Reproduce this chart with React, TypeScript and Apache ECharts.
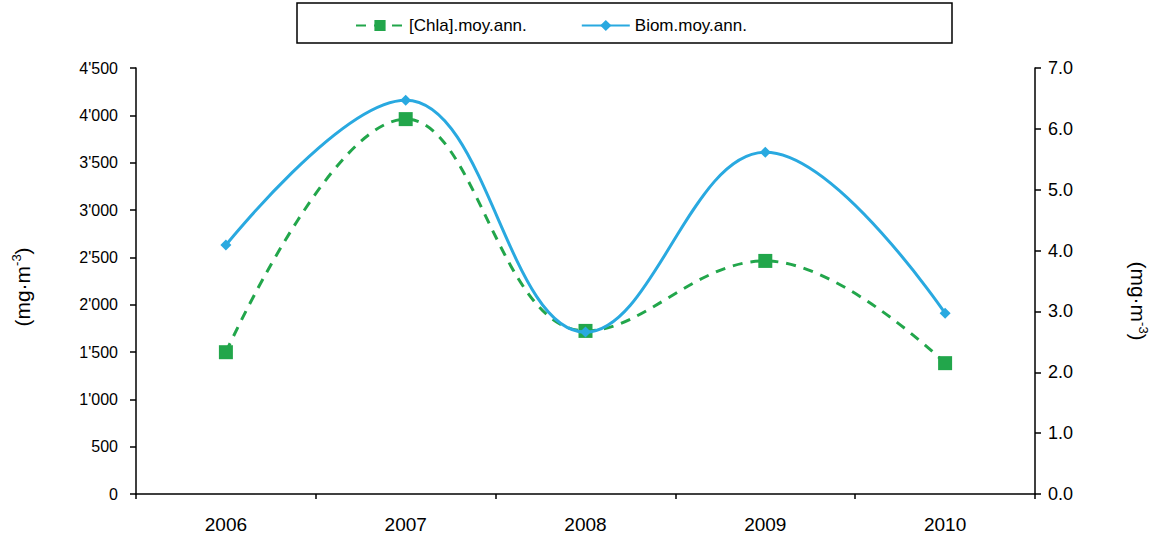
import React, { useEffect, useRef } from "react";
import * as echarts from "echarts";

const years = ["2006", "2007", "2008", "2009", "2010"];
const chlaValues = [2.33, 6.16, 2.68, 3.83, 2.15];
const biomValues = [2630, 4160, 1710, 3610, 1910];
const chlaName = "[Chla].moy.ann.";
const biomName = "Biom.moy.ann.";

const FONT = "'Liberation Sans', Arial, sans-serif";
const GREEN = "#22A64B";
const BLUE = "#29A9E0";

function fmtThousands(v: number): string {
  if (v >= 1000) {
    const k = Math.floor(v / 1000);
    const r = Math.round(v % 1000);
    return `${k}'${String(r).padStart(3, "0")}`;
  }
  return String(v);
}

const unitRich = {
  a: { fontSize: 21, lineHeight: 24, fontFamily: FONT, fill: "#000", color: "#000" },
  s: { fontSize: 13, lineHeight: 13, fontFamily: FONT, fill: "#000", color: "#000", verticalAlign: "top" as const },
};
const unitText = "{a|(mg·m}{s|-3}{a|)}";

export default function App() {
  const ref = useRef<HTMLDivElement>(null);
  useEffect(() => {
    if (!ref.current) return;
    const chart = echarts.init(ref.current, undefined, { renderer: "svg" });
    const axisLine = { show: true, lineStyle: { color: "#000", width: 1.5 } };
    chart.setOption({
      animation: false,
      backgroundColor: "#fff",
      textStyle: { fontFamily: FONT },
      grid: { left: 136, right: 125, top: 68, bottom: 45, containLabel: false },
      legend: {
        left: 350,
        top: 12,
        itemWidth: 48,
        itemHeight: 14,
        itemGap: 54,
        textStyle: { fontSize: 17, color: "#000", fontFamily: FONT },
        data: [chlaName, biomName],
      },
      graphic: [
        {
          type: "rect",
          shape: { x: 297, y: 3, width: 655, height: 40 },
          style: { fill: "none", stroke: "#000", lineWidth: 1.5 },
          silent: true,
        },
        {
          type: "text",
          x: 22,
          y: 287,
          rotation: Math.PI / 2,
          style: { text: unitText, rich: unitRich, align: "center", verticalAlign: "middle" },
          silent: true,
        },
        {
          type: "text",
          x: 1138,
          y: 301,
          rotation: -Math.PI / 2,
          style: { text: unitText, rich: unitRich, align: "center", verticalAlign: "middle" },
          silent: true,
        },
      ],
      xAxis: {
        type: "category",
        data: years,
        boundaryGap: true,
        axisLine,
        axisTick: { show: true, alignWithLabel: false, length: 5, lineStyle: { color: "#000", width: 1.5 } },
        axisLabel: { fontSize: 19, color: "#000", margin: 21, fontFamily: FONT },
        splitLine: { show: false },
      },
      yAxis: [
        {
          type: "value",
          position: "left",
          min: 0,
          max: 4500,
          interval: 500,
          axisLine,
          axisTick: { show: true, length: 6, lineStyle: { color: "#000", width: 1.5 } },
          axisLabel: { fontSize: 16, color: "#000", margin: 18, formatter: (v: number) => fmtThousands(v), fontFamily: FONT },
          splitLine: { show: false },
        },
        {
          type: "value",
          position: "right",
          min: 0,
          max: 7,
          interval: 1,
          axisLine,
          axisTick: { show: true, length: 6, lineStyle: { color: "#000", width: 1.5 } },
          axisLabel: { fontSize: 18, color: "#000", margin: 13, formatter: (v: number) => v.toFixed(1), fontFamily: FONT },
          splitLine: { show: false },
        },
      ],
      series: [
        {
          name: chlaName,
          type: "line",
          yAxisIndex: 1,
          data: chlaValues,
          smooth: 0.4,
          symbol: "rect",
          symbolSize: 14,
          lineStyle: { color: GREEN, width: 3, type: [10, 8] },
          itemStyle: { color: GREEN },
          z: 2,
        },
        {
          name: biomName,
          type: "line",
          yAxisIndex: 0,
          data: biomValues,
          smooth: 0.4,
          symbol: "diamond",
          symbolSize: 11,
          lineStyle: { color: BLUE, width: 3 },
          itemStyle: { color: BLUE },
          z: 3,
        },
      ],
    });
    return () => chart.dispose();
  }, []);
  return <div ref={ref} style={{ position: "fixed", left: 0, top: 0, width: 1160, height: 539 }} />;
}
